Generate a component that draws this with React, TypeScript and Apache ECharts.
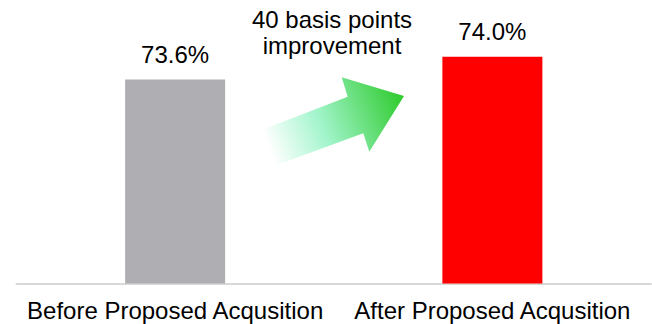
import React, { useEffect, useRef } from "react";
import * as echarts from "echarts";

const categories = ["Before Proposed Acqusition", "After Proposed Acqusition"];
const margins = [73.6, 74.0];
const barColors = ["#AFAEB2", "#FF0000"];
const annotation = "40 basis points\nimprovement";

const FONT = '"Liberation Sans", Arial, sans-serif';

export default function App() {
  const ref = useRef<HTMLDivElement>(null);

  useEffect(() => {
    if (!ref.current) return;
    const chart = echarts.init(ref.current, undefined, { renderer: "svg" });
    chart.setOption({
      animation: false,
      backgroundColor: "#ffffff",
      grid: { left: 16.5, right: 1, top: 0, bottom: 40.5, containLabel: false },
      xAxis: {
        type: "category",
        data: categories,
        axisLine: { show: true, lineStyle: { color: "#D9D9D9", width: 2 } },
        axisTick: { show: false },
        axisLabel: {
          color: "#000000",
          fontFamily: FONT,
          fontSize: 24,
          margin: 15,
          interval: 0,
        },
      },
      yAxis: {
        type: "value",
        min: 70,
        max: 75,
        show: false,
        splitLine: { show: false },
      },
      series: [
        {
          type: "bar",
          barWidth: 100,
          data: margins.map((v, i) => ({ value: v, itemStyle: { color: barColors[i] } })),
          label: {
            show: true,
            position: "top",
            distance: 13,
            color: "#000000",
            fontFamily: FONT,
            fontSize: 24,
            formatter: (p: any) => `${Number(p.value).toFixed(1)}%`,
          },
        },
      ],
      graphic: [
        {
          type: "polygon",
          shape: {
            points: [
              [261.7, 130],
              [347.7, 96.7],
              [341.7, 77.3],
              [404, 96],
              [369.3, 151.7],
              [363.3, 133.3],
              [276.7, 165],
            ],
          },
          style: {
            fill: new echarts.graphic.LinearGradient(0, 0.6, 1, 0.35, [
              { offset: 0, color: "#FFFFFF" },
              { offset: 0.4, color: "#A3F5CD" },
              { offset: 1, color: "#33CC33" },
            ]),
          },
        },
        {
          type: "text",
          x: 332,
          y: 6,
          style: {
            text: annotation,
            align: "center",
            verticalAlign: "top",
            font: `24px ${FONT}`,
            lineHeight: 26,
            fill: "#000000",
          },
        },
      ],
    });
    return () => chart.dispose();
  }, []);

  return (
    <div
      ref={ref}
      style={{ position: "absolute", left: 0, top: 0, width: 652, height: 324 }}
    />
  );
}
